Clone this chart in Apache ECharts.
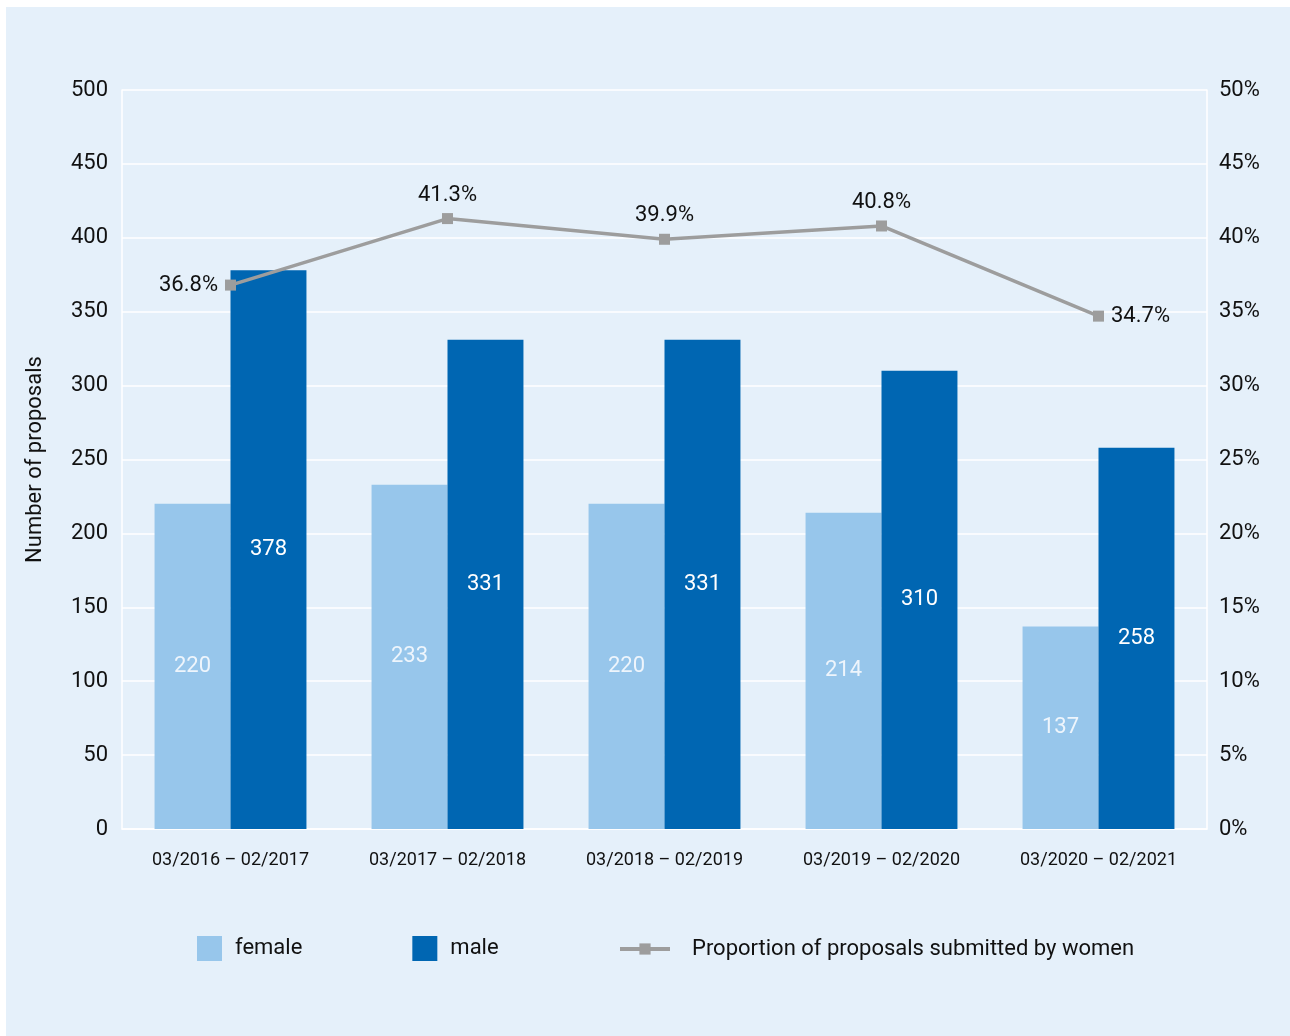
<!DOCTYPE html>
<html>
<head>
<meta charset="utf-8">
<script src="https://cdn.jsdelivr.net/npm/echarts@6/dist/echarts.min.js"></script>
<style>
html,body{margin:0;padding:0;background:#fff;}
#chart{width:1290px;height:1036px;}
</style>
</head>
<body>
<div id="chart"></div>
<script>
const categories = ['03/2016 – 02/2017','03/2017 – 02/2018','03/2018 – 02/2019','03/2019 – 02/2020','03/2020 – 02/2021'];
const female = [220, 233, 220, 214, 137];
const male = [378, 331, 331, 310, 258];
const proportion = [36.8, 41.3, 39.9, 40.8, 34.7];
const lineLabelPos = ['left','top','top','top','right'];

const FONT = 'Roboto';
const chart = echarts.init(document.getElementById('chart'), null, {renderer:'canvas'});
chart.setOption({
  backgroundColor: '#ffffff',
  textStyle: {fontFamily: FONT},
  graphic: [{type:'rect', z:-10, silent:true, shape:{x:6,y:7,width:1284,height:1029}, style:{fill:'#e5f0fa'}}],
  grid: {left:122, right:83, top:90, bottom:207},
  legend: [
    {data:['female','male'], left:192, top:931, itemWidth:25, itemHeight:25, itemGap:110,
     icon:'rect', textStyle:{fontSize:22, color:'#111', fontFamily:FONT, padding:[0,0,0,8]}},
    {data:['Proportion of proposals submitted by women'], left:613, top:933, itemWidth:50, itemHeight:14,
     lineStyle:{width:4},
     textStyle:{fontSize:22, color:'#111', fontFamily:FONT, padding:[0,0,0,17]}}
  ],
  xAxis: {type:'category', data:categories,
    axisLine:{lineStyle:{color:'#ffffff', width:1.5}}, axisTick:{show:false},
    axisLabel:{fontSize:18, color:'#111', margin:22, fontFamily:FONT}},
  yAxis: [
    {type:'value', min:0, max:500, interval:50, name:'Number of proposals', nameLocation:'middle', nameGap:76,
     nameTextStyle:{fontSize:22, color:'#111', fontFamily:FONT},
     axisLine:{show:true, lineStyle:{color:'#ffffff', width:1.5}}, axisTick:{show:false},
     splitLine:{lineStyle:{color:'#ffffff', width:1.5}},
     axisLabel:{fontSize:22, color:'#111', margin:14, fontFamily:FONT}},
    {type:'value', min:0, max:50, interval:5, position:'right',
     axisLine:{show:true, lineStyle:{color:'#ffffff', width:1.5}}, axisTick:{show:false},
     splitLine:{show:false},
     axisLabel:{fontSize:22, color:'#111', margin:12, formatter:'{value}%', fontFamily:FONT}}
  ],
  series: [
    {name:'female', type:'bar', data:female, barGap:'0%', barCategoryGap:'30%',
     itemStyle:{color:'#97c6eb'},
     label:{show:true, position:'inside', fontSize:22, color:'#eef5fc', fontFamily:FONT}},
    {name:'male', type:'bar', data:male,
     itemStyle:{color:'#0066b2'},
     label:{show:true, position:'inside', fontSize:22, color:'#ffffff', fontFamily:FONT}},
    {name:'Proportion of proposals submitted by women', type:'line', yAxisIndex:1,
     data: proportion.map((v,i)=>({value:v, label:{position:lineLabelPos[i]}})),
     symbol:'rect', symbolSize:11, itemStyle:{color:'#9d9d9d'},
     lineStyle:{color:'#9d9d9d', width:3.5},
     label:{show:true, fontSize:22, color:'#111', distance:7, fontFamily:FONT, formatter: p => p.value.toFixed(1) + '%'}}
  ]
});
</script>
</body>
</html>
